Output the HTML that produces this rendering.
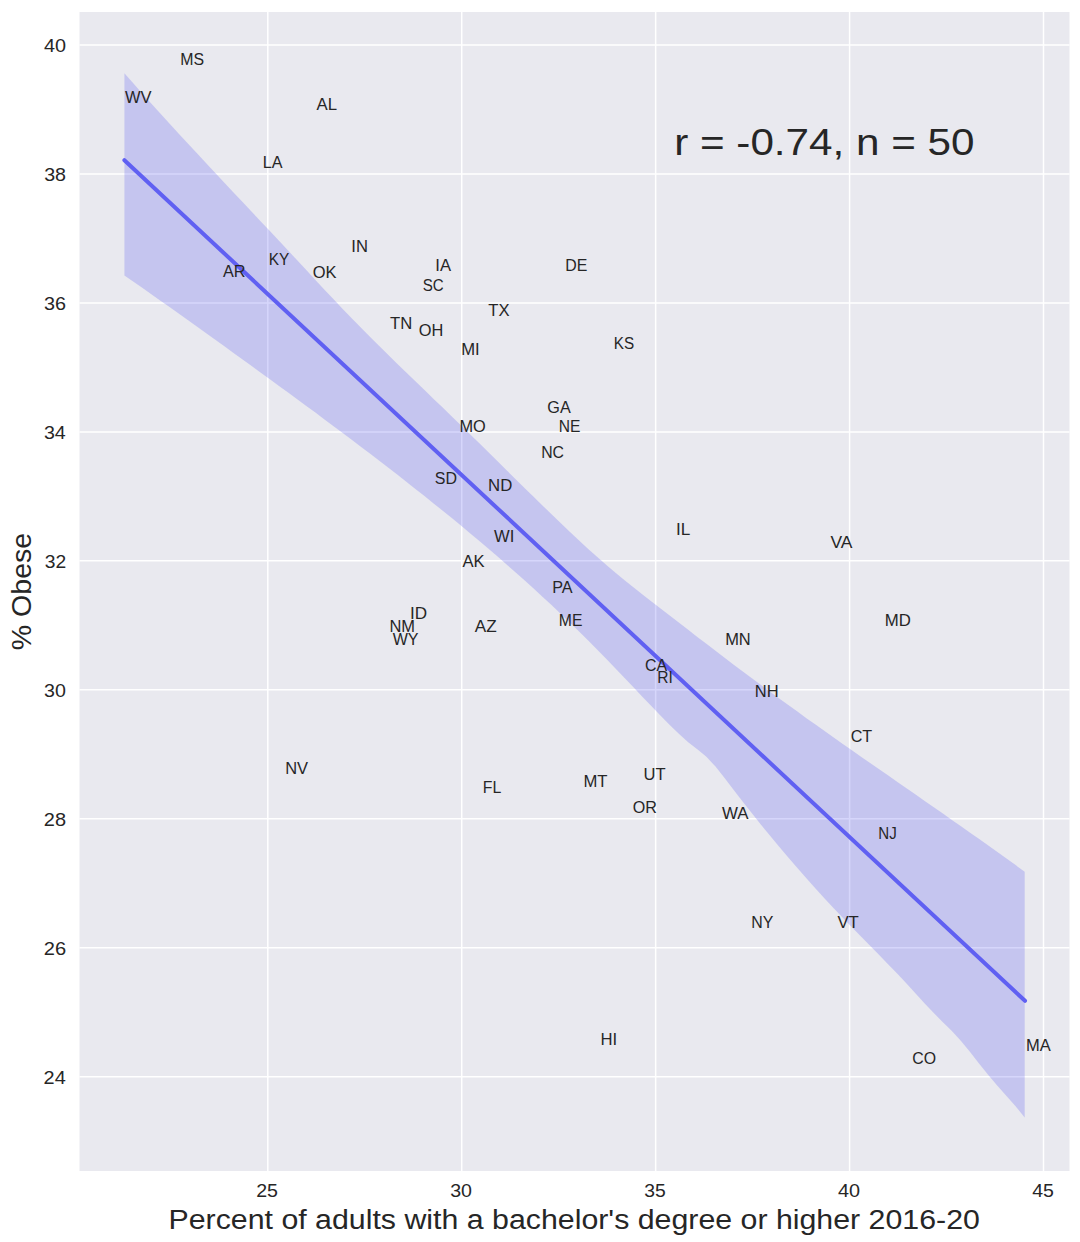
<!DOCTYPE html>
<html><head><meta charset="utf-8"><style>
html,body{margin:0;padding:0;background:#fff;}
svg{display:block;}
text{font-family:"Liberation Sans", sans-serif;}
</style></head><body>
<svg width="1080" height="1242" viewBox="0 0 1080 1242">
<rect x="0" y="0" width="1080" height="1242" fill="#ffffff"/>
<rect x="79.5" y="12.0" width="990.0" height="1159.0" fill="#e9e9ef"/>
<line x1="267.80" y1="12.0" x2="267.80" y2="1171.0" stroke="#ffffff" stroke-width="1.5"/>
<line x1="461.73" y1="12.0" x2="461.73" y2="1171.0" stroke="#ffffff" stroke-width="1.5"/>
<line x1="655.65" y1="12.0" x2="655.65" y2="1171.0" stroke="#ffffff" stroke-width="1.5"/>
<line x1="849.58" y1="12.0" x2="849.58" y2="1171.0" stroke="#ffffff" stroke-width="1.5"/>
<line x1="1043.50" y1="12.0" x2="1043.50" y2="1171.0" stroke="#ffffff" stroke-width="1.5"/>
<line x1="79.5" y1="1076.68" x2="1069.5" y2="1076.68" stroke="#ffffff" stroke-width="1.5"/>
<line x1="79.5" y1="947.72" x2="1069.5" y2="947.72" stroke="#ffffff" stroke-width="1.5"/>
<line x1="79.5" y1="818.76" x2="1069.5" y2="818.76" stroke="#ffffff" stroke-width="1.5"/>
<line x1="79.5" y1="689.80" x2="1069.5" y2="689.80" stroke="#ffffff" stroke-width="1.5"/>
<line x1="79.5" y1="560.84" x2="1069.5" y2="560.84" stroke="#ffffff" stroke-width="1.5"/>
<line x1="79.5" y1="431.88" x2="1069.5" y2="431.88" stroke="#ffffff" stroke-width="1.5"/>
<line x1="79.5" y1="302.92" x2="1069.5" y2="302.92" stroke="#ffffff" stroke-width="1.5"/>
<line x1="79.5" y1="173.96" x2="1069.5" y2="173.96" stroke="#ffffff" stroke-width="1.5"/>
<line x1="79.5" y1="45.00" x2="1069.5" y2="45.00" stroke="#ffffff" stroke-width="1.5"/>
<polygon points="124.4,73.3 133.5,83.6 142.6,93.9 151.7,104.0 160.8,114.1 169.9,124.0 179.0,133.9 188.1,143.8 197.2,153.5 206.2,163.3 215.3,173.0 224.4,182.7 233.5,192.4 242.6,202.0 251.7,211.7 260.8,221.4 269.9,231.1 279.0,240.8 288.1,250.6 297.2,260.3 306.3,270.1 315.4,279.9 324.5,289.7 333.6,299.3 342.7,308.9 351.7,318.3 360.8,327.6 369.9,336.7 379.0,345.8 388.1,354.8 397.2,363.7 406.3,372.5 415.4,381.3 424.5,390.1 433.6,398.9 442.7,407.6 451.8,416.4 460.9,425.3 470.0,434.2 479.1,443.1 488.2,452.0 497.3,461.0 506.3,470.0 515.4,478.9 524.5,487.9 533.6,496.8 542.7,505.7 551.8,514.5 560.9,523.3 570.0,531.9 579.1,540.5 588.2,548.9 597.3,557.1 606.4,565.1 615.5,572.8 624.6,580.3 633.7,587.6 642.8,594.7 651.8,601.7 660.9,608.8 670.0,615.8 679.1,622.8 688.2,629.8 697.3,636.9 706.4,643.8 715.5,650.8 724.6,657.8 733.7,664.7 742.8,671.5 751.9,678.3 761.0,685.1 770.1,691.8 779.2,698.5 788.3,705.1 797.4,711.6 806.4,718.2 815.5,724.6 824.6,731.1 833.7,737.5 842.8,743.9 851.9,750.3 861.0,756.7 870.1,763.0 879.2,769.3 888.3,775.6 897.4,781.9 906.5,788.3 915.6,794.6 924.7,800.9 933.8,807.2 942.9,813.5 951.9,819.9 961.0,826.3 970.1,832.7 979.2,839.1 988.3,845.5 997.4,852.0 1006.5,858.5 1015.6,865.1 1024.7,871.7 1024.7,1117.6 1015.6,1106.3 1006.5,1095.9 997.4,1085.7 988.3,1075.0 979.2,1063.7 970.1,1052.1 961.0,1041.0 951.9,1031.1 942.9,1022.2 933.8,1013.1 924.7,1003.4 915.6,993.4 906.5,983.5 897.4,973.8 888.3,964.4 879.2,955.0 870.1,945.8 861.0,936.5 851.9,927.2 842.8,917.8 833.7,908.2 824.6,898.4 815.5,888.5 806.4,878.3 797.4,868.0 788.3,857.5 779.2,846.7 770.1,835.8 761.0,824.7 751.9,813.3 742.8,801.8 733.7,790.0 724.6,778.1 715.5,766.6 706.4,756.8 697.3,749.3 688.2,742.3 679.1,734.1 670.0,725.2 660.9,716.0 651.8,706.6 642.8,697.2 633.7,687.6 624.6,678.0 615.5,668.5 606.4,659.0 597.3,649.7 588.2,640.5 579.1,631.5 570.0,622.7 560.9,613.9 551.8,605.3 542.7,596.9 533.6,588.5 524.5,580.3 515.4,572.2 506.3,564.2 497.3,556.3 488.2,548.5 479.1,540.8 470.0,533.2 460.9,525.6 451.8,518.1 442.7,510.7 433.6,503.4 424.5,496.1 415.4,488.9 406.3,481.7 397.2,474.6 388.1,467.5 379.0,460.5 369.9,453.6 360.8,446.7 351.7,439.8 342.7,433.0 333.6,426.2 324.5,419.4 315.4,412.6 306.3,405.9 297.2,399.2 288.1,392.6 279.0,385.9 269.9,379.3 260.8,372.7 251.7,366.1 242.6,359.5 233.5,352.9 224.4,346.3 215.3,339.8 206.2,333.2 197.2,326.7 188.1,320.2 179.0,313.8 169.9,307.3 160.8,300.9 151.7,294.5 142.6,288.1 133.5,281.7 124.4,275.4" fill="#6161f0" fill-opacity="0.257"/>
<line x1="124.4" y1="160.2" x2="1025" y2="1000.8" stroke="#6060f2" stroke-width="4.0" stroke-linecap="round"/>
<text x="180.20" y="65.00" font-size="17.17" textLength="23.80" lengthAdjust="spacingAndGlyphs" fill="#262626">MS</text>
<text x="125.03" y="103.30" font-size="17.17" textLength="26.57" lengthAdjust="spacingAndGlyphs" fill="#262626">WV</text>
<text x="316.47" y="110.00" font-size="17.17" textLength="20.48" lengthAdjust="spacingAndGlyphs" fill="#262626">AL</text>
<text x="262.78" y="168.30" font-size="17.17" textLength="19.74" lengthAdjust="spacingAndGlyphs" fill="#262626">LA</text>
<text x="351.27" y="251.70" font-size="17.17" textLength="16.60" lengthAdjust="spacingAndGlyphs" fill="#262626">IN</text>
<text x="268.84" y="264.70" font-size="17.17" textLength="20.56" lengthAdjust="spacingAndGlyphs" fill="#262626">KY</text>
<text x="222.97" y="277.30" font-size="17.17" textLength="22.53" lengthAdjust="spacingAndGlyphs" fill="#262626">AR</text>
<text x="312.72" y="277.50" font-size="17.17" textLength="23.77" lengthAdjust="spacingAndGlyphs" fill="#262626">OK</text>
<text x="435.27" y="271.00" font-size="17.17" textLength="15.70" lengthAdjust="spacingAndGlyphs" fill="#262626">IA</text>
<text x="422.81" y="290.70" font-size="17.17" textLength="20.98" lengthAdjust="spacingAndGlyphs" fill="#262626">SC</text>
<text x="565.20" y="271.00" font-size="17.17" textLength="22.07" lengthAdjust="spacingAndGlyphs" fill="#262626">DE</text>
<text x="488.23" y="316.00" font-size="17.17" textLength="21.26" lengthAdjust="spacingAndGlyphs" fill="#262626">TX</text>
<text x="390.03" y="329.00" font-size="17.17" textLength="22.20" lengthAdjust="spacingAndGlyphs" fill="#262626">TN</text>
<text x="418.83" y="335.50" font-size="17.17" textLength="24.54" lengthAdjust="spacingAndGlyphs" fill="#262626">OH</text>
<text x="461.14" y="355.00" font-size="17.17" textLength="18.47" lengthAdjust="spacingAndGlyphs" fill="#262626">MI</text>
<text x="613.85" y="348.70" font-size="17.17" textLength="20.37" lengthAdjust="spacingAndGlyphs" fill="#262626">KS</text>
<text x="547.28" y="412.70" font-size="17.17" textLength="23.44" lengthAdjust="spacingAndGlyphs" fill="#262626">GA</text>
<text x="459.46" y="432.00" font-size="17.17" textLength="26.35" lengthAdjust="spacingAndGlyphs" fill="#262626">MO</text>
<text x="558.82" y="432.30" font-size="17.17" textLength="21.68" lengthAdjust="spacingAndGlyphs" fill="#262626">NE</text>
<text x="541.20" y="458.30" font-size="17.17" textLength="22.86" lengthAdjust="spacingAndGlyphs" fill="#262626">NC</text>
<text x="434.87" y="483.70" font-size="17.17" textLength="22.22" lengthAdjust="spacingAndGlyphs" fill="#262626">SD</text>
<text x="488.12" y="490.50" font-size="17.17" textLength="24.22" lengthAdjust="spacingAndGlyphs" fill="#262626">ND</text>
<text x="494.03" y="541.70" font-size="17.17" textLength="20.27" lengthAdjust="spacingAndGlyphs" fill="#262626">WI</text>
<text x="675.92" y="535.00" font-size="17.17" textLength="14.27" lengthAdjust="spacingAndGlyphs" fill="#262626">IL</text>
<text x="462.47" y="567.30" font-size="17.17" textLength="22.14" lengthAdjust="spacingAndGlyphs" fill="#262626">AK</text>
<text x="552.24" y="593.30" font-size="17.17" textLength="20.41" lengthAdjust="spacingAndGlyphs" fill="#262626">PA</text>
<text x="409.92" y="619.00" font-size="17.17" textLength="17.10" lengthAdjust="spacingAndGlyphs" fill="#262626">ID</text>
<text x="389.45" y="632.30" font-size="17.17" textLength="25.63" lengthAdjust="spacingAndGlyphs" fill="#262626">NM</text>
<text x="392.73" y="645.00" font-size="17.17" textLength="25.83" lengthAdjust="spacingAndGlyphs" fill="#262626">WY</text>
<text x="474.77" y="632.00" font-size="17.17" textLength="21.89" lengthAdjust="spacingAndGlyphs" fill="#262626">AZ</text>
<text x="558.81" y="625.70" font-size="17.17" textLength="23.55" lengthAdjust="spacingAndGlyphs" fill="#262626">ME</text>
<text x="644.99" y="670.70" font-size="17.17" textLength="22.19" lengthAdjust="spacingAndGlyphs" fill="#262626">CA</text>
<text x="657.22" y="683.30" font-size="17.17" textLength="15.57" lengthAdjust="spacingAndGlyphs" fill="#262626">RI</text>
<text x="830.53" y="548.30" font-size="17.17" textLength="22.01" lengthAdjust="spacingAndGlyphs" fill="#262626">VA</text>
<text x="884.72" y="625.70" font-size="17.17" textLength="26.08" lengthAdjust="spacingAndGlyphs" fill="#262626">MD</text>
<text x="725.15" y="645.00" font-size="17.17" textLength="25.61" lengthAdjust="spacingAndGlyphs" fill="#262626">MN</text>
<text x="754.75" y="696.70" font-size="17.17" textLength="23.82" lengthAdjust="spacingAndGlyphs" fill="#262626">NH</text>
<text x="850.68" y="741.70" font-size="17.17" textLength="21.54" lengthAdjust="spacingAndGlyphs" fill="#262626">CT</text>
<text x="285.15" y="774.00" font-size="17.17" textLength="22.90" lengthAdjust="spacingAndGlyphs" fill="#262626">NV</text>
<text x="482.80" y="793.30" font-size="17.17" textLength="18.49" lengthAdjust="spacingAndGlyphs" fill="#262626">FL</text>
<text x="583.43" y="787.30" font-size="17.17" textLength="24.08" lengthAdjust="spacingAndGlyphs" fill="#262626">MT</text>
<text x="643.52" y="780.00" font-size="17.17" textLength="22.05" lengthAdjust="spacingAndGlyphs" fill="#262626">UT</text>
<text x="632.74" y="812.70" font-size="17.17" textLength="24.14" lengthAdjust="spacingAndGlyphs" fill="#262626">OR</text>
<text x="722.03" y="819.00" font-size="17.17" textLength="26.53" lengthAdjust="spacingAndGlyphs" fill="#262626">WA</text>
<text x="878.26" y="838.70" font-size="17.17" textLength="18.46" lengthAdjust="spacingAndGlyphs" fill="#262626">NJ</text>
<text x="751.19" y="928.30" font-size="17.17" textLength="22.11" lengthAdjust="spacingAndGlyphs" fill="#262626">NY</text>
<text x="837.43" y="928.30" font-size="17.17" textLength="21.36" lengthAdjust="spacingAndGlyphs" fill="#262626">VT</text>
<text x="600.43" y="1045.00" font-size="17.17" textLength="16.69" lengthAdjust="spacingAndGlyphs" fill="#262626">HI</text>
<text x="1025.95" y="1050.70" font-size="17.17" textLength="24.72" lengthAdjust="spacingAndGlyphs" fill="#262626">MA</text>
<text x="912.29" y="1064.30" font-size="17.17" textLength="23.81" lengthAdjust="spacingAndGlyphs" fill="#262626">CO</text>
<text x="674.20" y="154.60" font-size="37.64" textLength="300.35" lengthAdjust="spacingAndGlyphs" fill="#262626">r = -0.74, n = 50</text>
<text x="256.21" y="1197.00" font-size="19.07" textLength="21.82" lengthAdjust="spacingAndGlyphs" fill="#262626">25</text>
<text x="450.21" y="1197.00" font-size="19.07" textLength="21.85" lengthAdjust="spacingAndGlyphs" fill="#262626">30</text>
<text x="644.33" y="1197.00" font-size="19.07" textLength="21.51" lengthAdjust="spacingAndGlyphs" fill="#262626">35</text>
<text x="838.10" y="1197.00" font-size="19.07" textLength="22.06" lengthAdjust="spacingAndGlyphs" fill="#262626">40</text>
<text x="1032.23" y="1197.00" font-size="19.07" textLength="21.72" lengthAdjust="spacingAndGlyphs" fill="#262626">45</text>
<text x="43.62" y="1083.98" font-size="19.07" textLength="22.16" lengthAdjust="spacingAndGlyphs" fill="#262626">24</text>
<text x="43.74" y="955.02" font-size="19.07" textLength="22.35" lengthAdjust="spacingAndGlyphs" fill="#262626">26</text>
<text x="43.84" y="826.06" font-size="19.07" textLength="22.23" lengthAdjust="spacingAndGlyphs" fill="#262626">28</text>
<text x="44.11" y="697.10" font-size="19.07" textLength="21.85" lengthAdjust="spacingAndGlyphs" fill="#262626">30</text>
<text x="44.73" y="568.14" font-size="19.07" textLength="21.43" lengthAdjust="spacingAndGlyphs" fill="#262626">32</text>
<text x="43.93" y="439.18" font-size="19.07" textLength="21.85" lengthAdjust="spacingAndGlyphs" fill="#262626">34</text>
<text x="44.05" y="310.22" font-size="19.07" textLength="22.02" lengthAdjust="spacingAndGlyphs" fill="#262626">36</text>
<text x="44.15" y="181.26" font-size="19.07" textLength="21.91" lengthAdjust="spacingAndGlyphs" fill="#262626">38</text>
<text x="43.91" y="52.30" font-size="19.07" textLength="22.06" lengthAdjust="spacingAndGlyphs" fill="#262626">40</text>
<text x="168.52" y="1228.90" font-size="28.19" textLength="811.36" lengthAdjust="spacingAndGlyphs" fill="#262626">Percent of adults with a bachelor&#39;s degree or higher 2016-20</text>
<g transform="translate(31.3,591.7) rotate(-90)"><text x="-58.65" y="0.00" font-size="28.19" textLength="117.55" lengthAdjust="spacingAndGlyphs" fill="#262626">% Obese</text></g>
</svg>
</body></html>
